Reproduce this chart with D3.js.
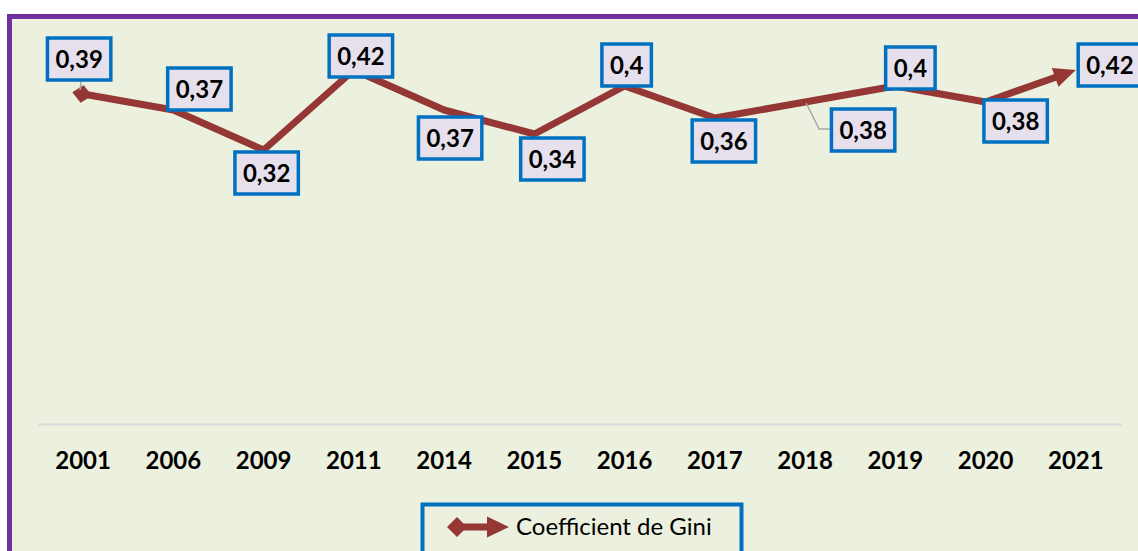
<!DOCTYPE html>
<html>
<head>
<meta charset="utf-8">
<script src="https://cdn.jsdelivr.net/npm/d3@7"></script>
<style>
  body { margin: 0; background: #ffffff; }
  text { font-family: Lato, "Open Sans", sans-serif; }
</style>
</head>
<body>
<div id="chart"></div>
<script>
// Data
var years = ["2001", "2006", "2009", "2011", "2014", "2015", "2016", "2017", "2018", "2019", "2020", "2021"];
var gini = [0.39, 0.37, 0.32, 0.42, 0.37, 0.34, 0.40, 0.36, 0.38, 0.40, 0.38, 0.42];
var seriesName = "Coefficient de Gini";

// Label placement (offset of box centre from the point)
var labelOffsets = [[-4, -35], [26, -21], [3, 23], [7, -14], [6, 28], [18, 25], [2, -21], [9, 23], [58, 28], [15, -18], [30, 19], [34, -5]];

var svgWidth = 1138;
var svgHeight = 551;

var svg = d3.select("#chart")
    .append("svg")
    .attr("width", svgWidth)
    .attr("height", svgHeight);

// chart area with purple frame
svg.append("rect")
    .attr("x", 9.5)
    .attr("y", 16.5)
    .attr("width", 1160)
    .attr("height", 560)
    .attr("fill", "#ebf1de")
    .attr("stroke", "#7030a0")
    .attr("stroke-width", 5);

// scales
var xScale = d3.scaleBand()
    .domain(years)
    .range([38, 1121]);

var yScale = d3.scaleLinear()
    .domain([0, 0.45])
    .range([406, 46]);

// x axis
var bottomAxis = d3.axisBottom(xScale).tickSize(0).tickPadding(28);
var xAxis = svg.append("g")
    .attr("transform", "translate(0, 424)")
    .call(bottomAxis);
xAxis.select(".domain").attr("stroke", "#d9d9d9").attr("stroke-width", 2);
xAxis.selectAll("text")
    .attr("font-size", "24px")
    .attr("font-weight", "bold")
    .attr("fill", "#000")
    .style("font-family", "Lato, 'Open Sans', sans-serif");

var color = "#953735";
var pts = years.map(function (y, i) {
    return [xScale(y) + xScale.bandwidth() / 2, yScale(gini[i])];
});

// shorten last segment for the arrow head
var n = pts.length;
var ax = pts[n - 1][0] - pts[n - 2][0];
var ay = pts[n - 1][1] - pts[n - 2][1];
var len = Math.sqrt(ax * ax + ay * ay);
var ux = ax / len, uy = ay / len;
var linePts = pts.slice(0, n - 1).concat([[pts[n - 1][0] - ux * 14, pts[n - 1][1] - uy * 14]]);

svg.append("path")
    .datum(linePts)
    .attr("d", d3.line())
    .attr("fill", "none")
    .attr("stroke", color)
    .attr("stroke-width", 7)
    .attr("stroke-linejoin", "round");

// arrow head at end
function arrowHead(tip, ux, uy, L, W) {
    var bx = tip[0] - ux * L, by = tip[1] - uy * L;
    var px = -uy, py = ux;
    return "M" + tip[0] + "," + tip[1] +
        "L" + (bx + px * W / 2) + "," + (by + py * W / 2) +
        "L" + (bx - px * W / 2) + "," + (by - py * W / 2) + "Z";
}
svg.append("path")
    .attr("d", arrowHead(pts[n - 1], ux, uy, 22, 20))
    .attr("fill", color);

// diamond at start
var d0x = pts[1][0] - pts[0][0], d0y = pts[1][1] - pts[0][1];
var d0 = Math.atan2(d0y, d0x) * 180 / Math.PI;
svg.append("path")
    .attr("d", "M-10,0L0,-9L10,0L0,9Z")
    .attr("transform", "translate(" + (pts[0][0] - 1) + "," + pts[0][1] + ") rotate(" + d0 + ")")
    .attr("fill", color);

// leader lines
svg.append("path")
    .attr("d", "M" + (pts[0][0] - 2) + "," + (pts[0][1] - 13) + "L" + (pts[0][0] - 3) + "," + (pts[0][1] - 4))
    .attr("stroke", "#a6a6a6").attr("stroke-width", 1.5).attr("fill", "none");
svg.append("path")
    .attr("d", "M" + (pts[8][0] + 1) + "," + (pts[8][1] + 1) + "L" + (pts[8][0] + 14) + "," + (pts[8][1] + 27) + "L" + (pts[8][0] + 26) + "," + (pts[8][1] + 27))
    .attr("stroke", "#a6a6a6").attr("stroke-width", 1.5).attr("fill", "none");

// data labels
var labels = svg.selectAll(".dlabel")
    .data(gini)
    .enter()
    .append("g")
    .attr("class", "dlabel")
    .attr("transform", function (d, i) {
        return "translate(" + (pts[i][0] + labelOffsets[i][0]) + "," + (pts[i][1] + labelOffsets[i][1]) + ")";
    });

var labelText = labels.append("text")
    .attr("text-anchor", "middle")
    .attr("dy", "0.36em")
    .attr("font-size", "24px")
    .attr("font-weight", "bold")
    .attr("fill", "#000")
    .text(function (d) { return String(d).replace(".", ","); });

labels.insert("rect", "text")
    .each(function (d, i) {
        var w = labelText.nodes()[i].getComputedTextLength() + 16;
        d3.select(this)
            .attr("x", -w / 2)
            .attr("y", -21)
            .attr("width", w)
            .attr("height", 42);
    })
    .attr("fill", "#e6e0ec")
    .attr("stroke", "#0070c0")
    .attr("stroke-width", 3.5);

// legend
var legend = svg.append("g");
legend.append("rect")
    .attr("x", 422.5)
    .attr("y", 504.5)
    .attr("width", 319)
    .attr("height", 70)
    .attr("fill", "none")
    .attr("stroke", "#0070c0")
    .attr("stroke-width", 4);
legend.append("line")
    .attr("x1", 457).attr("y1", 527)
    .attr("x2", 492).attr("y2", 527)
    .attr("stroke", color).attr("stroke-width", 7);
legend.append("path")
    .attr("d", "M447,527L457,517L467,527L457,537Z")
    .attr("fill", color);
legend.append("path")
    .attr("d", arrowHead([509, 527], 1, 0, 22, 21))
    .attr("fill", color);
legend.append("text")
    .attr("x", 516)
    .attr("y", 535)
    .attr("font-size", "24px")
    .attr("fill", "#000")
    .text(seriesName);
</script>
</body>
</html>
